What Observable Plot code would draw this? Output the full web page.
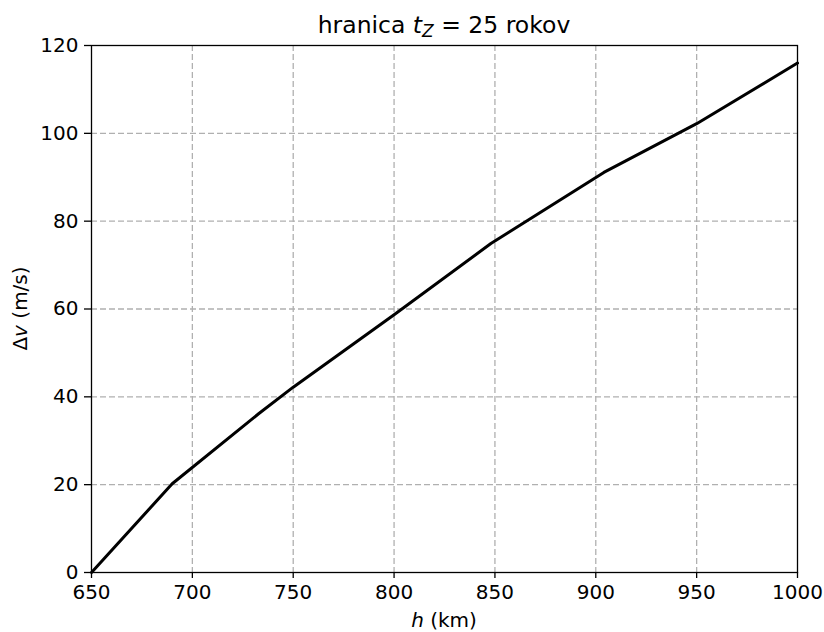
<!DOCTYPE html>
<html>
<head>
<meta charset="utf-8">
<script src="https://cdn.jsdelivr.net/npm/d3@7"></script>
<script src="https://cdn.jsdelivr.net/npm/@observablehq/plot@0.6"></script>
<style>
  html, body { margin: 0; padding: 0; background: #fff; }
  #chart { position: relative; width: 824px; height: 632px; }
  #chart svg { font-family: "DejaVu Sans", sans-serif; }
</style>
</head>
<body>
<div id="chart"></div>
<script>
// Required Δv versus orbit altitude for a 25-year lifetime limit
const altitudeKm = [650, 690, 733, 750, 800, 848, 904, 950, 1000];
const deltaV = [0, 20.2, 36.2, 42.2, 58.7, 74.9, 91.1, 102.2, 116];
const xTicks = [650, 700, 750, 800, 850, 900, 950, 1000];
const yTicks = [0, 20, 40, 60, 80, 100, 120];

const data = altitudeKm.map((h, i) => ({h, dv: deltaV[i]}));

const W = 824, H = 632;
const mL = 91, mR = 27, mT = 45, mB = 60;
const FS = 20;

const plot = Plot.plot({
  width: W,
  height: H,
  marginLeft: mL,
  marginRight: mR,
  marginTop: mT,
  marginBottom: mB,
  style: {fontFamily: "DejaVu Sans, sans-serif", fontSize: FS + "px", color: "#000", background: "#fff"},
  x: {domain: [650, 1000]},
  y: {domain: [0, 120]},
  marks: [
    Plot.gridX(xTicks.slice(1, -1), {stroke: "#b0b0b0", strokeOpacity: 1, strokeWidth: 1.3, strokeDasharray: "6,3"}),
    Plot.gridY(yTicks.slice(1, -1), {stroke: "#b0b0b0", strokeOpacity: 1, strokeWidth: 1.3, strokeDasharray: "6,3"}),
    Plot.axisX(xTicks, {tickSize: 6, tickPadding: 6, fontSize: FS, label: null, tickFormat: d => String(d), strokeWidth: 1.3}),
    Plot.axisY(yTicks, {tickSize: 7, tickPadding: 6, fontSize: FS, label: null, tickFormat: d => String(d), strokeWidth: 1.3}),
    Plot.line(data, {x: "h", y: "dv", stroke: "#000", strokeWidth: 3}),
    Plot.frame({stroke: "#000", strokeWidth: 1.3})
  ]
});

document.getElementById("chart").appendChild(plot);

// Title and axis labels with italic symbols
const svg = d3.select(plot);
const cx = mL + (W - mL - mR) / 2;
const cy = mT + (H - mT - mB) / 2;

const title = svg.append("text")
  .attr("x", cx).attr("y", 33)
  .attr("text-anchor", "middle")
  .attr("font-size", 23.5)
  .attr("fill", "#000");
title.append("tspan").text("hranica ");
title.append("tspan").attr("font-style", "italic").text("t");
title.append("tspan").attr("font-style", "italic").attr("font-size", 17).attr("dy", 4).text("Z");
title.append("tspan").attr("dy", -4).text(" = 25 rokov");

const xl = svg.append("text")
  .attr("x", cx).attr("y", 627)
  .attr("text-anchor", "middle")
  .attr("font-size", FS)
  .attr("fill", "#000");
xl.append("tspan").attr("font-style", "italic").text("h");
xl.append("tspan").text(" (km)");

const yl = svg.append("text")
  .attr("transform", `translate(27,${cy}) rotate(-90)`)
  .attr("text-anchor", "middle")
  .attr("font-size", FS)
  .attr("fill", "#000");
yl.append("tspan").text("Δ");
yl.append("tspan").attr("font-style", "italic").text("v");
yl.append("tspan").text(" (m/s)");
</script>
</body>
</html>
